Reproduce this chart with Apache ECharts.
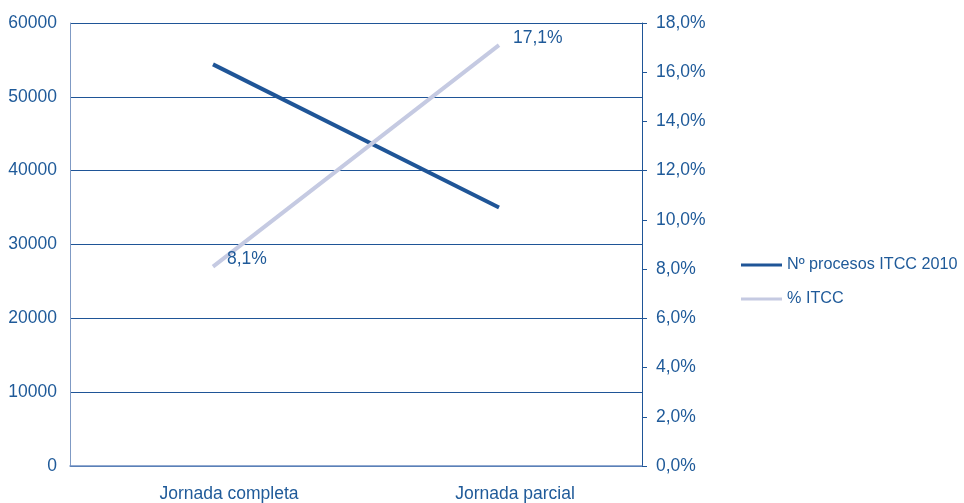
<!DOCTYPE html>
<html><head><meta charset="utf-8">
<script src="https://cdn.jsdelivr.net/npm/echarts@6/dist/echarts.min.js"></script>
<style>html,body{margin:0;padding:0;background:#fff}#c{width:964px;height:503px}</style>
</head><body><div id="c"></div>
<script>
var categories = ['Jornada completa', 'Jornada parcial'];
var procesos = [54400, 35000];
var pctITCC = [8.1, 17.1];
var seriesNames = ['Nº procesos ITCC 2010', '% ITCC'];

var FONT = '"Liberation Sans", Arial, sans-serif';
var FS = 17.5;
var TXT = '#1F5A99';
var chart = echarts.init(document.getElementById('c'), null, {renderer: 'canvas'});
chart.setOption({
  animation: false,
  textStyle: {fontFamily: FONT},
  grid: {left: 70, right: 322, top: 23, bottom: 37, containLabel: false, outerBoundsMode: 'none'},
  legend: {
    orient: 'vertical', left: 741, top: 256, padding: 0, itemWidth: 41, itemHeight: 3, itemGap: 16,
    icon: 'rect',
    textStyle: {fontFamily: FONT, fontSize: 16.2, lineHeight: 18, color: TXT},
    data: seriesNames
  },
  xAxis: {
    type: 'category', data: categories, boundaryGap: true,
    axisLine: {lineStyle: {color: '#6F8FC2', width: 1.5}},
    axisTick: {show: false},
    axisLabel: {fontFamily: FONT, fontSize: FS, color: TXT, margin: 19, padding: [0, 0, 0, 32]}
  },
  yAxis: [
    {type: 'value', min: 0, max: 60000, interval: 10000,
     axisLine: {show: true, lineStyle: {color: '#7F9AC4', width: 1}},
     axisTick: {show: false},
     splitLine: {lineStyle: {color: '#1F5597', width: 1}},
     axisLabel: {fontFamily: FONT, fontSize: FS, color: TXT, margin: 13,
       formatter: function(v){ return String(v); }}},
    {type: 'value', min: 0, max: 18, interval: 2, position: 'right',
     axisLine: {show: true, lineStyle: {color: '#1F5597', width: 1}},
     axisTick: {show: true, inside: false, length: 5, lineStyle: {color: '#1F5597'}},
     splitLine: {show: false},
     axisLabel: {fontFamily: FONT, fontSize: FS, color: TXT, margin: 14,
       formatter: function(v){ return v.toFixed(1).replace('.', ',') + '%'; }}}
  ],
  series: [
    {name: seriesNames[0], type: 'line', yAxisIndex: 0, data: procesos,
     symbol: 'none', lineStyle: {color: '#1F5597', width: 4}, itemStyle: {color: '#1F5597'}},
    {name: seriesNames[1], type: 'line', yAxisIndex: 1, data: pctITCC,
     symbol: 'circle', symbolSize: 0, showSymbol: true,
     lineStyle: {color: '#C5CAE2', width: 4}, itemStyle: {color: '#C5CAE2'},
     label: {show: true, position: 'right', distance: 14, offset: [0, -7],
       fontFamily: FONT, fontSize: FS, color: TXT,
       formatter: function(p){ return p.value.toFixed(1).replace('.', ',') + '%'; }}}
  ]
});
</script></body></html>
